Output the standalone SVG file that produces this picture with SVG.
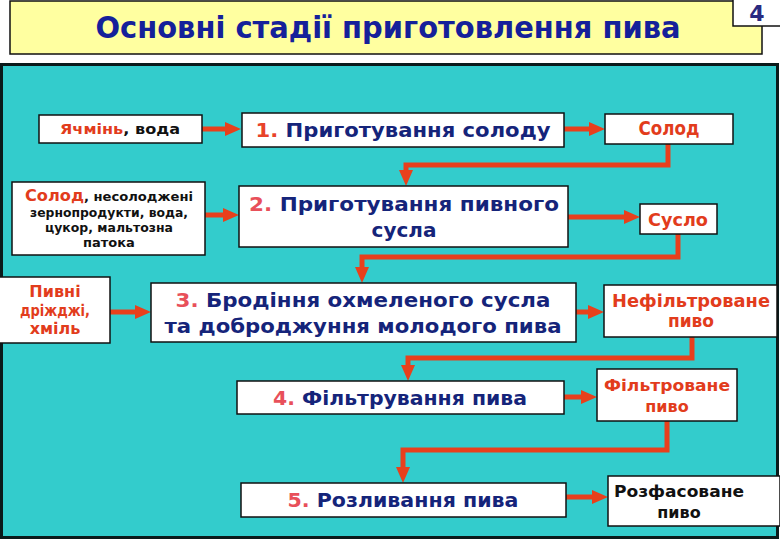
<svg xmlns="http://www.w3.org/2000/svg" width="780" height="540" viewBox="0 0 780 540">
<style>
.box{fill:#ffffff;stroke:#111111;stroke-width:1.5}
.t{font-family:"DejaVu Sans","Liberation Sans",sans-serif;font-weight:bold;text-anchor:middle}
.blue{fill:#15247a}
.red{fill:#e23c1c}
.num{fill:#e8505a}
.blk{fill:#111111}
.conn{fill:none;stroke:#e8401c;stroke-width:5;stroke-linejoin:miter}
</style>
<defs>
<marker id="ah" viewBox="0 0 16 14" refX="0" refY="7" markerWidth="16" markerHeight="14" markerUnits="userSpaceOnUse" orient="auto">
<path d="M0,0 L16,7 L0,14 z" fill="#e8401c"/>
</marker>
</defs>
<rect x="0" y="0" width="780" height="540" fill="#ffffff"/>
<g id="title">
<rect x="10" y="1" width="752" height="53" fill="#ffffa0" stroke="#111111" stroke-width="1.5"/>
<text class="t" x="388" y="38" font-size="30" fill="#15209a" textLength="585" lengthAdjust="spacingAndGlyphs">Основні стадії приготовлення пива</text>
</g>
<g id="page-number">
<rect x="733" y="-2" width="50" height="28" class="box"/>
<text class="t" x="757" y="21" font-size="22" fill="#2a2a80">4</text>
</g>
<rect id="panel" x="1.5" y="64.5" width="776" height="473" fill="#33cccc" stroke="#0a1a1a" stroke-width="3"/>

<g id="connectors">
<path class="conn" d="M202,129 H225" marker-end="url(#ah)"/>
<path class="conn" d="M205,215 H223" marker-end="url(#ah)"/>
<path class="conn" d="M110,312 H135" marker-end="url(#ah)"/>
<path class="conn" d="M564,129 H589" marker-end="url(#ah)"/>
<path class="conn" d="M568,217 H624" marker-end="url(#ah)"/>
<path class="conn" d="M576,312 H588" marker-end="url(#ah)"/>
<path class="conn" d="M564,397 H581" marker-end="url(#ah)"/>
<path class="conn" d="M566,497 H592" marker-end="url(#ah)"/>
<path class="conn" d="M668,144 V165 H406 V170" marker-end="url(#ah)"/>
<path class="conn" d="M678,234 V257 H362 V267" marker-end="url(#ah)"/>
<path class="conn" d="M692,337 V358 H408 V365" marker-end="url(#ah)"/>
<path class="conn" d="M667,421 V450 H403 V467" marker-end="url(#ah)"/>
</g>

<g id="in-barley">
<rect class="box" x="39" y="115" width="163" height="28"/>
<text class="t" x="120" y="134" font-size="14.5" textLength="120" lengthAdjust="spacingAndGlyphs"><tspan class="red">Ячмінь</tspan><tspan class="blk">, вода</tspan></text>
</g>
<g id="in-malt">
<rect class="box" x="12" y="182" width="193" height="73"/>
<text class="t" x="109" y="201" font-size="13" textLength="168" lengthAdjust="spacingAndGlyphs"><tspan class="red" font-size="16">Солод</tspan><tspan class="blk">, несолоджені</tspan></text>
<text class="t blk" x="109" y="217" font-size="13" textLength="158" lengthAdjust="spacingAndGlyphs">зернопродукти, вода,</text>
<text class="t blk" x="109" y="232" font-size="13" textLength="128" lengthAdjust="spacingAndGlyphs">цукор, мальтозна</text>
<text class="t blk" x="109" y="247" font-size="13">патока</text>
</g>
<g id="in-yeast">
<rect class="box" x="-1" y="277" width="111" height="66"/>
<text class="t red" x="55" y="297" font-size="16">Пивні</text>
<text class="t red" x="55" y="316" font-size="16" textLength="70" lengthAdjust="spacingAndGlyphs">дріжджі,</text>
<text class="t red" x="55" y="334" font-size="16">хміль</text>
</g>

<g id="step1">
<rect class="box" x="242" y="113" width="322" height="34"/>
<text class="t" x="403" y="137" font-size="20" textLength="295" lengthAdjust="spacingAndGlyphs"><tspan fill="#e8432a">1.</tspan><tspan class="blue"> Приготування солоду</tspan></text>
</g>
<g id="step2">
<rect class="box" x="239" y="186" width="329" height="61"/>
<text class="t" x="404" y="211" font-size="20" textLength="310" lengthAdjust="spacingAndGlyphs"><tspan class="num">2.</tspan><tspan class="blue"> Приготування пивного</tspan></text>
<text class="t blue" x="404" y="237" font-size="20">сусла</text>
</g>
<g id="step3">
<rect class="box" x="151" y="283" width="425" height="59"/>
<text class="t" x="363" y="307" font-size="20" textLength="375" lengthAdjust="spacingAndGlyphs"><tspan class="num">3.</tspan><tspan class="blue"> Бродіння охмеленого сусла</tspan></text>
<text class="t blue" x="363" y="333" font-size="20" textLength="397" lengthAdjust="spacingAndGlyphs">та доброджуння молодого пива</text>
</g>
<g id="step4">
<rect class="box" x="237" y="381" width="327" height="33"/>
<text class="t" x="400" y="405" font-size="20" textLength="254" lengthAdjust="spacingAndGlyphs"><tspan class="num">4.</tspan><tspan class="blue"> Фільтрування пива</tspan></text>
</g>
<g id="step5">
<rect class="box" x="241" y="483" width="325" height="34"/>
<text class="t" x="403" y="507" font-size="20" textLength="231" lengthAdjust="spacingAndGlyphs"><tspan class="num">5.</tspan><tspan class="blue"> Розливання пива</tspan></text>
</g>

<g id="out-malt">
<rect class="box" x="605" y="114" width="128" height="30"/>
<text class="t red" x="669" y="135" font-size="19" textLength="61" lengthAdjust="spacingAndGlyphs">Солод</text>
</g>
<g id="out-wort">
<rect class="box" x="640" y="204" width="77" height="30"/>
<text class="t red" x="678" y="226" font-size="18" textLength="60" lengthAdjust="spacingAndGlyphs">Сусло</text>
</g>
<g id="out-unfiltered">
<rect class="box" x="604" y="285" width="173" height="52"/>
<text class="t red" x="691" y="307" font-size="17" textLength="158" lengthAdjust="spacingAndGlyphs">Нефільтроване</text>
<text class="t red" x="691" y="327" font-size="17">пиво</text>
</g>
<g id="out-filtered">
<rect class="box" x="597" y="369" width="140" height="52"/>
<text class="t red" x="667" y="391" font-size="16" textLength="126" lengthAdjust="spacingAndGlyphs">Фільтроване</text>
<text class="t red" x="667" y="412" font-size="16">пиво</text>
</g>
<g id="out-packaged">
<rect class="box" x="608" y="476" width="172" height="50"/>
<text class="t blk" x="679" y="497" font-size="16" textLength="130" lengthAdjust="spacingAndGlyphs">Розфасоване</text>
<text class="t blk" x="679" y="518" font-size="16">пиво</text>
</g>
</svg>
